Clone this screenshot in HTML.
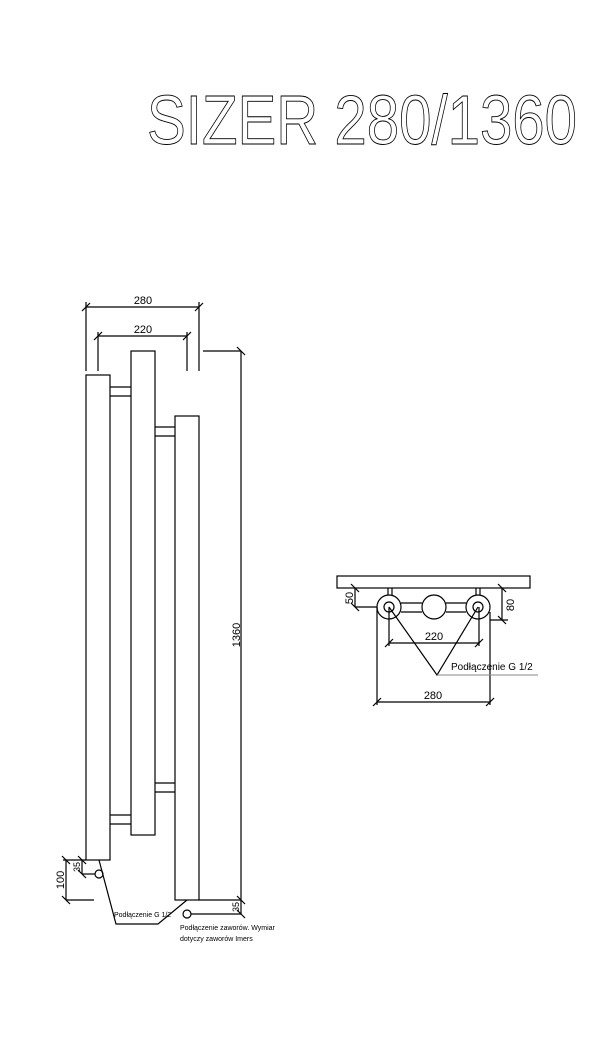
<!DOCTYPE html>
<html><head><meta charset="utf-8"><style>html,body{margin:0;padding:0;background:#fff}svg{display:block}</style></head>
<body>
<svg width="611" height="1048" viewBox="0 0 611 1048" xmlns="http://www.w3.org/2000/svg" font-family="Liberation Sans, sans-serif">
<rect width="611" height="1048" fill="#fff"/>
<text x="147" y="144" font-size="70" textLength="430" lengthAdjust="spacingAndGlyphs" fill="none" stroke="#000" stroke-width="0.9">SIZER 280/1360</text>
<g stroke="#000" stroke-width="1.2" fill="none">
<!-- left drawing dims -->
<line x1="86" y1="307" x2="199" y2="307"/>
<line x1="86" y1="302" x2="86" y2="371"/><line x1="199" y1="302" x2="199" y2="371"/>
<line x1="82" y1="311" x2="90" y2="303"/><line x1="195" y1="311" x2="203" y2="303"/>
<line x1="98" y1="336" x2="187" y2="336"/>
<line x1="98" y1="332" x2="98" y2="371"/><line x1="187" y1="332" x2="187" y2="371"/>
<line x1="94" y1="340" x2="102" y2="332"/><line x1="183" y1="340" x2="191" y2="332"/>
<line x1="203" y1="351" x2="241" y2="351"/><line x1="241" y1="351" x2="241" y2="914"/>
<line x1="237" y1="347" x2="245" y2="355"/>
<!-- bars -->
<rect x="86" y="375" width="24" height="485"/>
<rect x="131" y="351" width="24" height="484"/>
<rect x="175" y="416" width="24" height="484"/>
<line x1="110" y1="387" x2="131" y2="387"/><line x1="110" y1="396" x2="131" y2="396"/>
<line x1="110" y1="815" x2="131" y2="815"/><line x1="110" y1="824" x2="131" y2="824"/>
<line x1="155" y1="427" x2="175" y2="427"/><line x1="155" y1="436" x2="175" y2="436"/>
<line x1="155" y1="783" x2="175" y2="783"/><line x1="155" y1="792" x2="175" y2="792"/>
<line x1="199" y1="900" x2="241" y2="900"/>
<line x1="237" y1="896" x2="245" y2="904"/><line x1="237" y1="910" x2="245" y2="918"/>
<!-- bottom left dims -->
<line x1="63" y1="860" x2="86" y2="860"/>
<line x1="66" y1="860" x2="66" y2="900"/><line x1="66" y1="900" x2="94" y2="900"/>
<line x1="62" y1="856" x2="70" y2="864"/><line x1="62" y1="896" x2="70" y2="904"/>
<line x1="82" y1="860" x2="82" y2="874"/><line x1="82" y1="874" x2="95" y2="874"/>
<line x1="78" y1="856" x2="86" y2="864"/><line x1="78" y1="870" x2="86" y2="878"/>
<circle cx="99" cy="874" r="4"/>
<polyline points="99,860 116,924 158,924 187,900"/>
<circle cx="187" cy="914" r="4"/>
<line x1="191" y1="914" x2="241" y2="914"/>
<!-- right drawing -->
<rect x="337" y="576" width="193" height="12"/>
<line x1="388" y1="588" x2="388" y2="595"/><line x1="392" y1="588" x2="392" y2="595"/>
<line x1="476" y1="588" x2="476" y2="595"/><line x1="480" y1="588" x2="480" y2="595"/>
<line x1="401" y1="603" x2="422" y2="603"/><line x1="401" y1="612" x2="422" y2="612"/>
<line x1="446" y1="603" x2="466" y2="603"/><line x1="446" y1="612" x2="466" y2="612"/>
<circle cx="389" cy="607" r="12"/><circle cx="389" cy="607" r="5"/>
<circle cx="434" cy="607" r="12"/>
<circle cx="478" cy="607" r="12"/><circle cx="478" cy="607" r="5"/>
<line x1="355" y1="588" x2="355" y2="607"/><line x1="355" y1="607" x2="377" y2="607"/>
<line x1="351" y1="584" x2="359" y2="592"/><line x1="351" y1="603" x2="359" y2="611"/>
<line x1="502" y1="588" x2="502" y2="620"/><line x1="490" y1="620" x2="508" y2="620"/>
<line x1="498" y1="584" x2="506" y2="592"/><line x1="498" y1="616" x2="506" y2="624"/>
<line x1="389" y1="607" x2="389" y2="646"/><line x1="479" y1="607" x2="479" y2="646"/>
<line x1="389" y1="643" x2="479" y2="643"/>
<line x1="385" y1="647" x2="393" y2="639"/><line x1="475" y1="647" x2="483" y2="639"/>
<line x1="377" y1="607" x2="377" y2="705"/><line x1="490" y1="612" x2="490" y2="705"/>
<line x1="377" y1="702" x2="490" y2="702"/>
<line x1="373" y1="706" x2="381" y2="698"/><line x1="486" y1="706" x2="494" y2="698"/>
<polyline points="389,607 437,675 478,607"/>
</g>
<line x1="437" y1="675" x2="538" y2="675" stroke="#888" stroke-width="1"/>
<g fill="#000" font-size="11">
<text x="143" y="304" text-anchor="middle">280</text>
<text x="143" y="333" text-anchor="middle">220</text>
<text transform="translate(240,635) rotate(-90)" text-anchor="middle">1360</text>
<text transform="translate(64,880) rotate(-90)" text-anchor="middle">100</text>
<text transform="translate(80,867) rotate(-90)" text-anchor="middle" font-size="9">35</text>
<text transform="translate(239,907) rotate(-90)" text-anchor="middle" font-size="9">35</text>
<text x="114" y="917" font-size="7">Podłączenie G 1/2</text>
<text x="180" y="930" font-size="7">Podłączenie zaworów. Wymiar</text>
<text x="180" y="941" font-size="7">dotyczy zaworów Imers</text>
<text transform="translate(353,598) rotate(-90)" text-anchor="middle">50</text>
<text transform="translate(514,605) rotate(-90)" text-anchor="middle">80</text>
<text x="434" y="640" text-anchor="middle">220</text>
<text x="433" y="699" text-anchor="middle">280</text>
<text x="451" y="670" font-size="10">Podłączenie G 1/2</text>
</g>
</svg>
</body></html>
